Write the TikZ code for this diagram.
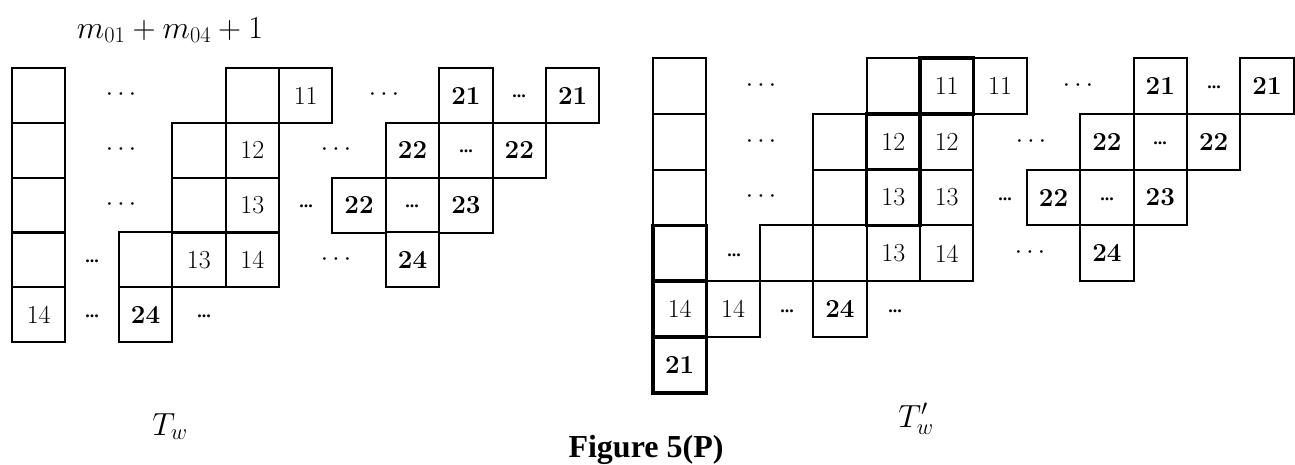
\RequirePackage{fix-cm}
\documentclass[tikz,border=0pt]{standalone}
\usepackage{fontspec}
\newfontfamily\figfont{Liberation Serif}
\begin{document}
\begin{tikzpicture}[x=1pt,y=-1pt,
  cell/.style={draw,line width=1.9pt,minimum width=53.4pt,minimum height=55pt,inner sep=0pt,outer sep=0pt,anchor=north west,font=\fontsize{26}{28}\selectfont},
  rcell/.style={cell,minimum height=55.8pt},
  thickcell/.style={line width=3.6pt},
  bnum/.style={font=\fontsize{26}{28}\selectfont\bfseries},
  sdots/.style={inner sep=0pt,font=\fontsize{26}{28}\selectfont},
  cdots/.style={inner sep=0pt,anchor=base,font=\figfont\fontsize{18}{20}\selectfont\bfseries},
  lbl/.style={inner sep=0pt,anchor=base,font=\fontsize{32}{34}\selectfont}]
\useasboundingbox (0,0) rectangle (1295,464);
% ---------- left tableau T_w ----------
% columns: x = 12 + 53.4*c ; rows: y = 68 + 54.8*r
\node[lbl] (mlab) at (170,38) {$m_{01}+m_{04}+1$};
% row 0
\node[cell] (L00) at (12,68) {};
\node[sdots] (Ld00) at (121,95) {$\cdots$};
\node[cell] (L04) at (225.6,68) {};
\node[cell] (L05) at (279,68) {11};
\node[sdots] (Ld01) at (384,95) {$\cdots$};
\node[cell,bnum] (L08) at (439.2,68) {21};
\node[cdots] (Ld02) at (519,97) {...};
\node[cell,bnum] (L010) at (546,68) {21};
% row 1
\node[cell] (L10) at (12,122.8) {};
\node[sdots] (Ld10) at (121,150) {$\cdots$};
\node[cell] (L13) at (172.2,122.8) {};
\node[cell] (L14) at (225.6,122.8) {12};
\node[sdots] (Ld11) at (336,150) {$\cdots$};
\node[cell,bnum] (L17) at (385.8,122.8) {22};
\node[cdots] (Ld12) at (466,152) {...};
\node[cell,bnum] (L19) at (492.6,122.8) {22};
% row 2
\node[cell] (L20) at (12,177.6) {};
\node[sdots] (Ld20) at (121,205) {$\cdots$};
\node[cell] (L23) at (172.2,177.6) {};
\node[cell] (L24) at (225.6,177.6) {13};
\node[cdots] (Ld21) at (306,207) {...};
\node[cell,bnum] (L26) at (332.4,177.6) {22};
\node[cdots] (Ld22) at (412,207) {...};
\node[cell,bnum] (L28) at (439.2,177.6) {23};
% row 3
\node[cell] (L30) at (12,232.4) {};
\node[cdots] (Ld30) at (92,262) {...};
\node[cell] (L32) at (118.8,232.4) {};
\node[cell] (L33) at (172.2,232.4) {13};
\node[cell] (L34) at (225.6,232.4) {14};
\node[sdots] (Ld31) at (336,260) {$\cdots$};
\node[cell,bnum] (L37) at (385.8,232.4) {24};
% row 4
\node[cell] (L40) at (12,287.2) {14};
\node[cdots] (Ld40) at (92,317) {...};
\node[cell,bnum] (L42) at (118.8,287.2) {24};
\node[cdots] (Ld41) at (204,317) {...};
\node[lbl] (Tw) at (170,435) {$T_w$};
% ---------- right tableau T'_w ----------
% columns: x = 653 + 53.4*c ; rows: y = 58 + 55.8*r
% row 0
\node[rcell] (R00) at (653,58) {};
\node[sdots] (Rd00) at (761,86) {$\cdots$};
\node[rcell] (R04) at (866.6,58) {};
\node[rcell,thickcell] (R05) at (920,58) {11};
\node[rcell] (R06) at (973.4,58) {11};
\node[sdots] (Rd01) at (1078,86) {$\cdots$};
\node[rcell,bnum] (R09) at (1133.6,58) {21};
\node[cdots] (Rd02) at (1214,88) {...};
\node[rcell,bnum] (R011) at (1240.4,58) {21};
% row 1
\node[rcell] (R10) at (653,113.8) {};
\node[sdots] (Rd10) at (761,142) {$\cdots$};
\node[rcell] (R13) at (813.2,113.8) {};
\node[rcell,thickcell] (R14) at (866.6,113.8) {12};
\node[rcell] (R15) at (920,113.8) {12};
\node[sdots] (Rd11) at (1031,142) {$\cdots$};
\node[rcell,bnum] (R18) at (1080.2,113.8) {22};
\node[cdots] (Rd12) at (1160,144) {...};
\node[rcell,bnum] (R110) at (1187,113.8) {22};
% row 2
\node[rcell] (R20) at (653,169.6) {};
\node[sdots] (Rd20) at (761,197) {$\cdots$};
\node[rcell] (R23) at (813.2,169.6) {};
\node[rcell,thickcell] (R24) at (866.6,169.6) {13};
\node[rcell] (R25) at (920,169.6) {13};
\node[cdots] (Rd21) at (1005,200) {...};
\node[rcell,bnum] (R27) at (1026.8,169.6) {22};
\node[cdots] (Rd22) at (1107,200) {...};
\node[rcell,bnum] (R29) at (1133.6,169.6) {23};
% row 3
\node[rcell,thickcell] (R30) at (653,225.4) {};
\node[cdots] (Rd30) at (734,256) {...};
\node[rcell] (R32) at (759.8,225.4) {};
\node[rcell] (R33) at (813.2,225.4) {};
\node[rcell] (R34) at (866.6,225.4) {13};
\node[rcell] (R35) at (920,225.4) {14};
\node[sdots] (Rd31) at (1030,253) {$\cdots$};
\node[rcell,bnum] (R38) at (1080.2,225.4) {24};
% row 4
\node[rcell,thickcell] (R40) at (653,281.2) {14};
\node[rcell] (R41) at (706.4,281.2) {14};
\node[cdots] (Rd40) at (787,312) {...};
\node[rcell,bnum] (R43) at (813.2,281.2) {24};
\node[cdots] (Rd41) at (895,312) {...};
% row 5
\node[rcell,thickcell,bnum] (R50) at (653,337) {21};
\node[lbl] (Twp) at (916,427) {$T'_w$};
% ---------- caption ----------
\node[inner sep=0pt,anchor=base,font=\figfont\fontsize{32}{34}\selectfont\bfseries] (cap) at (646,457) {Figure 5(P)};
\end{tikzpicture}
\end{document}
